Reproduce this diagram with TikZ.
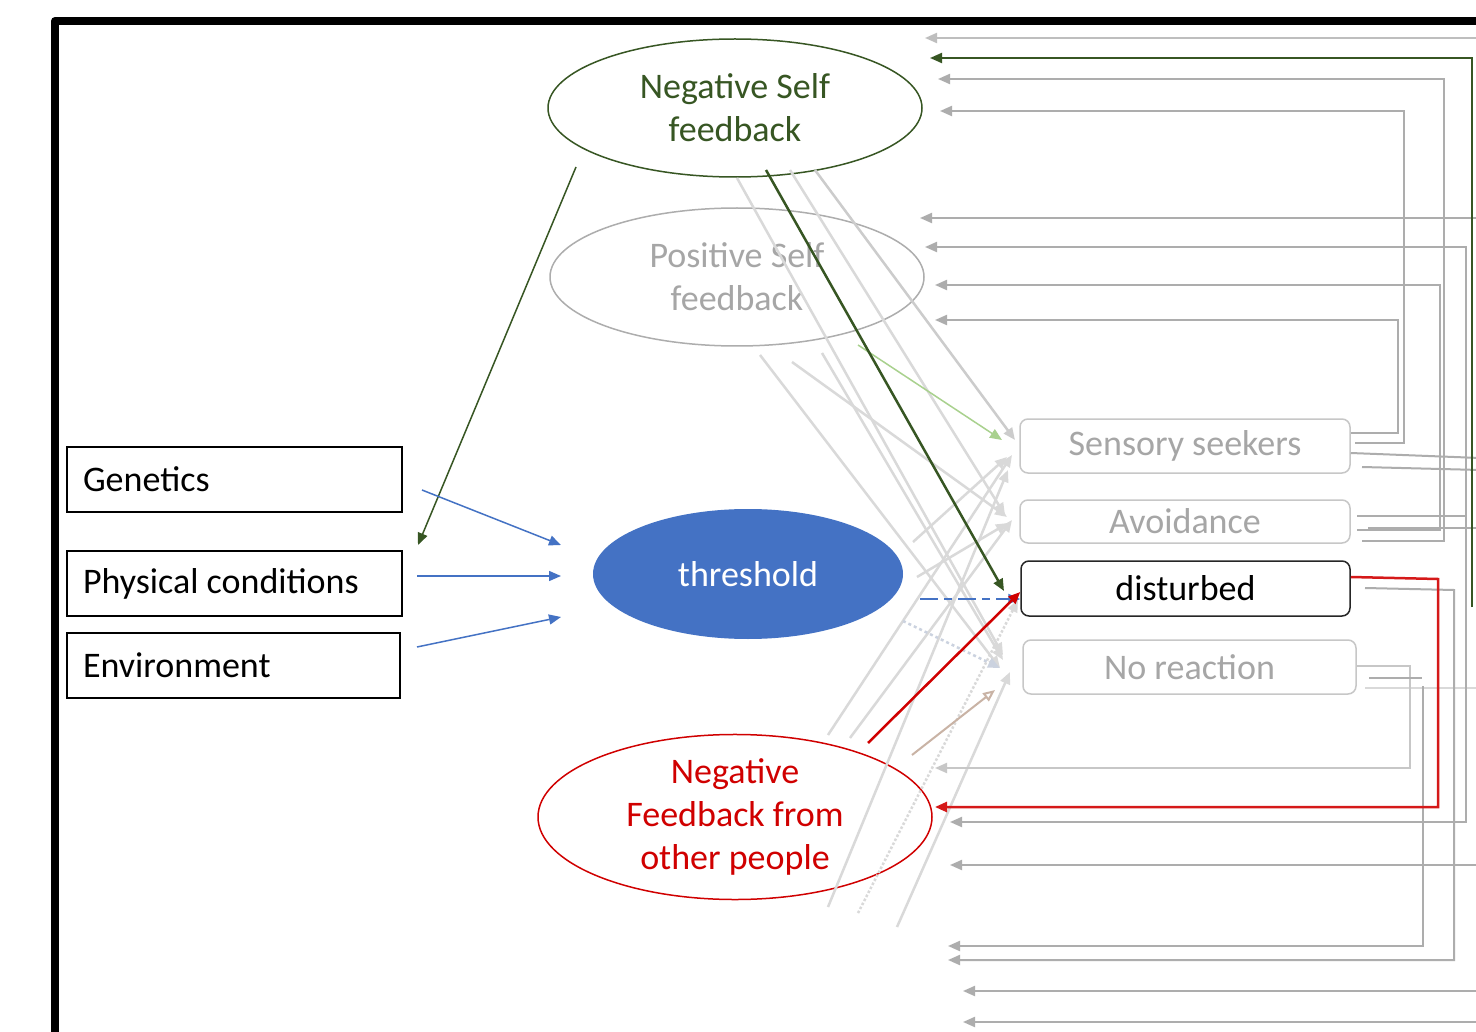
\documentclass[tikz,border=0pt]{standalone}
\usepackage{fontspec}
\setmainfont{Carlito}
\usetikzlibrary{arrows.meta,shapes.geometric}
\definecolor{dgreen}{HTML}{375623}
\definecolor{tblue}{HTML}{4472C4}
\definecolor{dred}{HTML}{D00000}
\definecolor{lgray}{HTML}{D9D9D9}
\definecolor{mgray}{HTML}{ADADAD}
\definecolor{tgray}{HTML}{A6A6A6}
\definecolor{lgreen}{HTML}{A9D18E}
\definecolor{lbgray}{HTML}{CBD2DF}
\definecolor{tan}{HTML}{C9B3A5}
\begin{document}
\begin{tikzpicture}[x=1pt,y=-1pt,
  lbl/.style={font=\fontsize{36}{43}\selectfont},
  oval/.style={ellipse,draw,inner sep=0pt,align=center,lbl},
  sqbox/.style={draw=black,line width=1.5pt,minimum height=65pt,inner xsep=16pt,lbl},
  rbox/.style={draw,rounded corners=8pt,line width=1.5pt,align=center,lbl},
  tip/.style={-{Triangle[length=12pt,width=10pt]}},
  spag/.style={draw=lgray,line width=2.5pt,tip},
  elb/.style={draw=mgray,line width=2pt,tip},
  bluearr/.style={draw=tblue,line width=1.5pt,tip}]
\useasboundingbox (0,0) rectangle (1476,1032);
\fill[white] (0,0) rectangle (1476,1032);

% frame
\draw[line width=8pt,line join=round] (55,1040) -- (55,21) -- (1480,21);

% ellipses
\node[oval,draw=dgreen,line width=1.5pt,text=dgreen,minimum width=374pt,minimum height=138pt] (nsf) at (735,108) {Negative Self\\feedback};
\node[oval,draw=mgray,line width=1.5pt,text=tgray,minimum width=374pt,minimum height=138pt] (psf) at (737,277) {Positive Self\\feedback};
\node[oval,draw=none,fill=tblue,text=white,minimum width=310pt,minimum height=130pt] (thr) at (748,574) {threshold};
\node[oval,draw=dred,line width=1.5pt,text=dred,minimum width=394pt,minimum height=158pt] (nfo) at (735,817) {Negative\\Feedback from\\other people};

% left boxes
\node[sqbox,minimum width=335pt] (gen) at (234.5,479.5) {\makebox[303pt][l]{Genetics}};
\node[sqbox,minimum width=335pt] (phy) at (234.5,583.5) {\makebox[303pt][l]{Physical conditions}};
\node[sqbox,minimum width=333pt] (env) at (233.5,665.5) {\makebox[301pt][l]{Environment}};

% right boxes
\node[rbox,draw=lgray!80!gray,text=tgray,minimum width=330pt,minimum height=54pt] (ss) at (1185,446) {Sensory seekers};
\node[rbox,draw=lgray!80!gray,text=tgray,minimum width=330pt,minimum height=43pt,inner ysep=0pt] (av) at (1185,521.5) {Avoidance};
\node[rbox,draw=black!85,text=black,minimum width=329pt,minimum height=55pt] (dis) at (1185.5,588.5) {disturbed};
\node[rbox,draw=lgray!80!gray,text=tgray,minimum width=333pt,minimum height=54pt] (nr) at (1189.5,667) {No reaction};

% light gray spaghetti
\draw[spag] (737,178) -- (1003,655);
\draw[spag] (790,170) -- (1005,515);
\draw[spag,draw=lgray!85!gray] (815,170) -- (1015,440);
\draw[spag] (760,355) -- (1000,668);
\draw[spag] (792,362) -- (1007,517);
\draw[spag] (822,353) -- (1003,660);
\draw[spag] (913,542) -- (1007,457);
\draw[spag] (917,577) -- (1008,523);
\draw[spag] (828,735) -- (1012,455);
\draw[spag] (850,738) -- (1012,520);
\draw[spag] (828,907) -- (1008,470);
\draw[spag,dotted] (858,913) -- (1018,600);
\draw[spag] (897,927) -- (1010,672);
\draw[spag,draw=lbgray,dashed] (903,621) -- (1000,668);
\draw[draw=tan,line width=2pt,-{Triangle[open,length=12pt,width=10pt]}] (912,755) -- (995,690);
\draw[draw=lgreen,line width=1.5pt,tip] (858,345) -- (1002,440);

% gray elbow connectors
\draw[elb,draw=lgray!70!gray] (1480,38) -- (925,38);
\draw[elb] (1362,541) -- (1444,541) -- (1444,79) -- (938,79);
\draw[elb] (1355,443) -- (1404,443) -- (1404,111) -- (940,111);
\draw[elb] (1480,218) -- (920,218);
\draw[elb] (1357,516) -- (1466,516) -- (1466,247) -- (925,247);
\draw[elb] (1357,530) -- (1440,530) -- (1440,285) -- (935,285);
\draw[elb] (ss.east |- 0,433) -- (1398,433) -- (1398,320) -- (935,320);
\draw[draw=mgray,line width=2pt] (ss.east |- 0,453) -- (1480,458);
\draw[draw=mgray,line width=2pt] (1362,467) -- (1480,470);
\draw[draw=mgray,line width=2pt] (1368,528) -- (1480,528);
\draw[draw=lgray,line width=1.5pt] (1365,688) -- (1480,688);
\draw[elb] (1466,516) -- (1466,822) -- (950,822);
\draw[elb] (1365,588) -- (1454,590) -- (1454,960) -- (948,960);
\draw[elb,draw=lgray!80!gray] (nr.east |- 0,666) -- (1410,666) -- (1410,768) -- (935,768);
\draw[draw=mgray,line width=2pt] (1369,678) -- (1422,678);
\draw[elb] (1423,686) -- (1423,946) -- (948,946);
\draw[elb] (1480,865) -- (950,865);
\draw[elb] (1480,991) -- (963,991);
\draw[elb] (1480,1022) -- (963,1022);

% red elbow
\draw[draw=dred!90!white,line width=2.5pt,tip] (dis.east |- 0,577) -- (1438,579) -- (1438,807) -- (935,807);
% green elbow
\draw[draw=dgreen,line width=2pt,tip] (1472,607) -- (1472,58) -- (930,58);

% main arrows
\draw[draw=dgreen,line width=1.5pt,tip] (576,167) -- (418,545);
\draw[bluearr] (422,490) -- (561,545);
\draw[bluearr] (417,576) -- (561,576);
\draw[bluearr] (417,647) -- (561,617);
\draw[draw=tblue,line width=2pt,dash pattern=on 18pt off 6pt on 8pt off 6pt,tip] (920,599) -- (dis.west |- 0,599);
\draw[draw=dgreen,line width=2.5pt,tip] (766,170) -- (1004,591);
\draw[draw=dred,line width=2.5pt,tip] (868,743) -- (dis.west |- 0,592);
\end{tikzpicture}
\end{document}
